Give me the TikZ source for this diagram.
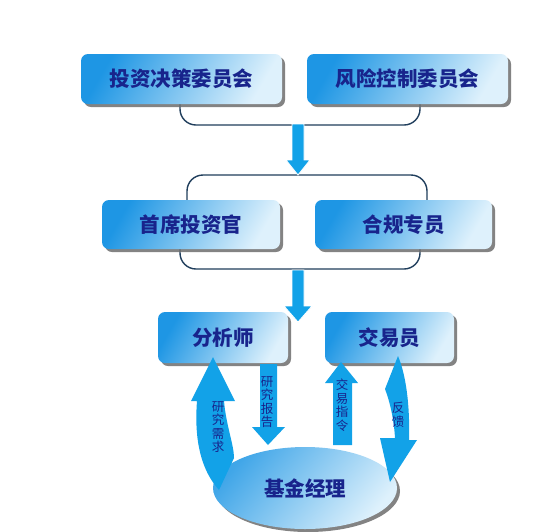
\documentclass[tikz,border=0pt]{standalone}
\usepackage{fontspec}
\newfontfamily\cjk{Noto Sans CJK SC}
\usetikzlibrary{shapes.geometric,shadows}
\definecolor{bdark}{RGB}{30,150,228}
\definecolor{blight}{RGB}{222,241,252}
\definecolor{navy}{RGB}{24,36,140}
\definecolor{arrowblue}{RGB}{18,162,232}
\definecolor{brk}{RGB}{32,62,92}
\definecolor{shadowgray}{RGB}{110,110,110}
\tikzset{
  boxnode/.style={rectangle, rounded corners=7pt, top color=bdark, bottom color=blight, shading angle=60,
    drop shadow={shadow xshift=3pt, shadow yshift=-3pt, fill=shadowgray, opacity=.85},
    text=navy, font=\cjk\bfseries\fontsize{20.5}{24}\selectfont, inner sep=0pt},
  ellnode/.style={ellipse, top color=bdark!85, bottom color=blight, shading angle=50,
    drop shadow={shadow xshift=3pt, shadow yshift=-3pt, fill=shadowgray, opacity=.85},
    text=navy, font=\cjk\bfseries\fontsize{20.5}{24}\selectfont, inner sep=0pt},
  bracket/.style={draw=brk, line width=1.4pt, rounded corners=16pt},
  blockarrow/.style={fill=arrowblue, draw=white, line width=0.8pt},
  curvearrow/.style={fill=arrowblue},
  vtext/.style={text=navy, font=\cjk\fontsize{12.5}{13.5}\selectfont, align=center, inner sep=0pt}
}
\begin{document}
\begin{tikzpicture}[x=1pt,y=-1pt]
\useasboundingbox (0,0) rectangle (554,531);
\fill[white] (0,0) rectangle (554,531);
% brackets
\draw[bracket] (180,100) -- (180,125) -- (420,125) -- (420,100);
\draw[bracket] (187,202) -- (187,175) -- (427,175) -- (427,202);
\draw[bracket] (180,245) -- (180,269) -- (420,269) -- (420,245);
% boxes
\node[boxnode, minimum width=201pt, minimum height=50pt] (n1) at (181.5,79) {投资决策委员会};
\node[boxnode, minimum width=201pt, minimum height=50pt] (n2) at (407.5,79) {风险控制委员会};
\node[boxnode, minimum width=178pt, minimum height=49pt] (n3) at (191,224.5) {首席投资官};
\node[boxnode, minimum width=177pt, minimum height=49pt] (n4) at (403.5,224.5) {合规专员};
\node[boxnode, minimum width=130pt, minimum height=51pt] (n5) at (223,337.5) {分析师};
\node[boxnode, minimum width=129pt, minimum height=51pt] (n6) at (389.5,337.5) {交易员};
\node[ellnode, minimum width=184pt, minimum height=82pt] (fm) at (305,488) {基金经理};
% down arrows
\filldraw[blockarrow] (292,124) -- (304,124) -- (304,160) -- (310,160) -- (298,175) -- (286,160) -- (292,160) -- cycle;
\filldraw[blockarrow] (292,270) -- (304,270) -- (304,306) -- (312,306) -- (298,322) -- (284,306) -- (292,306) -- cycle;
% research report (down)
\fill[curvearrow] (260,364) -- (277,364) -- (277,427) -- (285,427) -- (268,445) -- (252,427) -- (260,427) -- cycle;
% trade order (up)
\fill[curvearrow] (333,445) -- (352,445) -- (352,383) -- (358,383) -- (341,362) -- (325,383) -- (333,383) -- cycle;
% research demand (curved up)
\fill[curvearrow] (213,357) -- (235,401) -- (224,401) .. controls (226,425) and (234,445) .. (234,458)
  -- (219,490) .. controls (201,470) and (194,440) .. (197,401) -- (191,401) -- cycle;
% feedback (curved down)
\fill[curvearrow] (398,356) .. controls (406,375) and (410,405) .. (409,440) -- (417,440) -- (390,482)
  -- (380,438) -- (395,438) .. controls (394,420) and (390,402) .. (385,389) -- cycle;
% labels
\node[vtext] (t1) at (267,402) {研\\究\\报\\告};
\node[vtext] (t2) at (342,405) {交\\易\\指\\令};
\node[vtext] (t3) at (218,427) {研\\究\\需\\求};
\node[vtext] (t4) at (398,415) {反\\馈};
\end{tikzpicture}
\end{document}
